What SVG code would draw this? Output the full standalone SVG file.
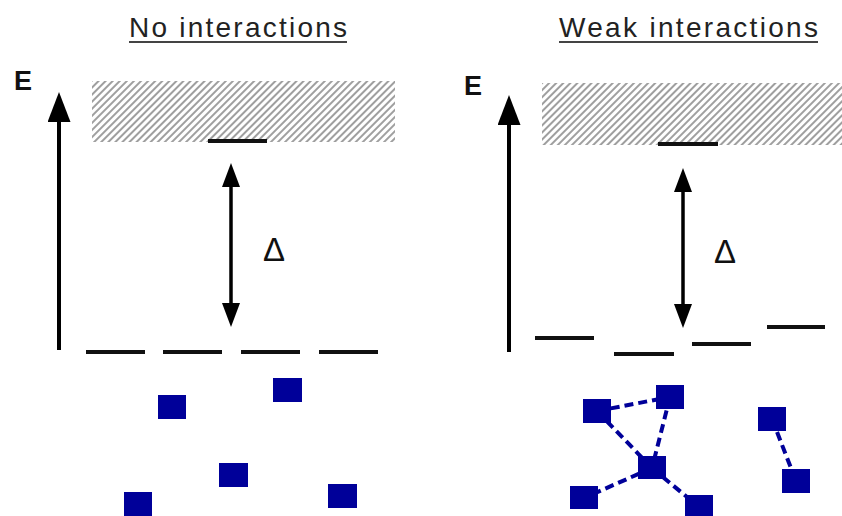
<svg xmlns="http://www.w3.org/2000/svg" width="842" height="516" viewBox="0 0 842 516">
  <defs>
    <pattern id="hatch" width="5" height="5" patternUnits="userSpaceOnUse" patternTransform="rotate(45)">
      <line x1="2" y1="0" x2="2" y2="5" stroke="#8e8e8e" stroke-width="1.7"/>
    </pattern>
    <!-- small head for the gap arrows: 24 long, 18 wide -->
    <marker id="head" viewBox="0 0 24 18" refX="14" refY="9" markerWidth="24" markerHeight="18" markerUnits="userSpaceOnUse" orient="auto-start-reverse">
      <path d="M0,0 L24,9 L0,18 z" fill="#000"/>
    </marker>
    <!-- large head for the energy axes: 30 long, 23 wide -->
    <marker id="headBig" viewBox="0 0 30 23" refX="18" refY="11.5" markerWidth="30" markerHeight="23" markerUnits="userSpaceOnUse" orient="auto">
      <path d="M0,0 L30,11.5 L0,23 z" fill="#000"/>
    </marker>
  </defs>
  <style>
    .title { font-family: "Liberation Sans", Arial, sans-serif; font-size: 28px; fill: #222; }
    .uline { stroke: #444; stroke-width: 2.2; }
    .axislbl { font-family: "Liberation Sans", Arial, sans-serif; font-size: 27px; font-weight: bold; fill: #111; }
    .delta { font-family: "Liberation Sans", Arial, sans-serif; font-size: 33px; fill: #111; }
    .axis { stroke: #000; stroke-width: 4; fill: none; }
    .gap { stroke: #000; stroke-width: 3.5; fill: none; }
    .level { stroke: #111; stroke-width: 4; }
    .band { fill: url(#hatch); }
    .site { fill: #000099; }
    .bond { stroke: #000099; stroke-width: 4; stroke-dasharray: 9 5; fill: none; }
  </style>

  <rect width="842" height="516" fill="#fff"/>

  <!-- Left panel: no interactions -->
  <g id="panel-left">
    <text class="title" x="129" y="37" textLength="218" lengthAdjust="spacing">No interactions</text>
    <line class="uline" x1="129" y1="42" x2="347" y2="42"/>
    <text class="axislbl" x="14" y="90">E</text>
    <rect class="band" x="92" y="81" width="303" height="61"/>
    <line class="level" x1="208" y1="141" x2="267" y2="141"/>
    <text class="delta" x="263" y="261">Δ</text>
    <g id="levels-left">
      <line class="level" x1="86" y1="352" x2="145" y2="352"/>
      <line class="level" x1="163" y1="352" x2="222" y2="352"/>
      <line class="level" x1="241" y1="352" x2="300" y2="352"/>
      <line class="level" x1="319" y1="352" x2="378" y2="352"/>
    </g>
    <g id="sites-left">
      <rect class="site" x="158" y="395" width="28" height="24"/>
      <rect class="site" x="273" y="378" width="29" height="24"/>
      <rect class="site" x="219" y="463" width="29" height="24"/>
      <rect class="site" x="124" y="492" width="28" height="24"/>
      <rect class="site" x="328" y="484" width="29" height="24"/>
    </g>
  </g>

  <!-- Right panel: weak interactions -->
  <g id="panel-right">
    <text class="title" x="559" y="37" textLength="259" lengthAdjust="spacing">Weak interactions</text>
    <line class="uline" x1="559" y1="42" x2="818" y2="42"/>
    <text class="axislbl" x="464" y="95">E</text>
    <rect class="band" x="542" y="83" width="300" height="62"/>
    <line class="level" x1="658" y1="144" x2="718" y2="144"/>
    <text class="delta" x="714" y="263">Δ</text>
    <g id="levels-right">
      <line class="level" x1="535" y1="338" x2="594" y2="338"/>
      <line class="level" x1="614" y1="354" x2="674" y2="354"/>
      <line class="level" x1="692" y1="344" x2="751" y2="344"/>
      <line class="level" x1="767" y1="327" x2="825" y2="327"/>
    </g>
  </g>

  <!-- Axes, gap arrows and bonds -->
  <g id="connectors">
    <line class="axis" x1="59" y1="350" x2="59" y2="104" marker-end="url(#headBig)"/>
    <line class="axis" x1="509" y1="352" x2="509" y2="107" marker-end="url(#headBig)"/>
    <line class="gap" x1="231" y1="173" x2="231" y2="317" marker-start="url(#head)" marker-end="url(#head)"/>
    <line class="gap" x1="683" y1="178" x2="683" y2="318" marker-start="url(#head)" marker-end="url(#head)"/>
    <line class="bond" x1="597" y1="411" x2="670" y2="397"/>
    <line class="bond" x1="597" y1="411" x2="652" y2="468"/>
    <line class="bond" x1="670" y1="397" x2="652" y2="468"/>
    <line class="bond" x1="652" y1="468" x2="584" y2="498"/>
    <line class="bond" x1="652" y1="468" x2="699" y2="507"/>
    <line class="bond" x1="772" y1="419" x2="796" y2="481"/>
  </g>

  <!-- Right panel sites drawn over the bonds -->
  <g id="sites-right">
    <rect class="site" x="583" y="399" width="28" height="24"/>
    <rect class="site" x="656" y="385" width="28" height="24"/>
    <rect class="site" x="638" y="456" width="28" height="23"/>
    <rect class="site" x="570" y="486" width="28" height="23"/>
    <rect class="site" x="685" y="495" width="28" height="24"/>
    <rect class="site" x="758" y="407" width="28" height="24"/>
    <rect class="site" x="782" y="469" width="28" height="24"/>
  </g>
</svg>
